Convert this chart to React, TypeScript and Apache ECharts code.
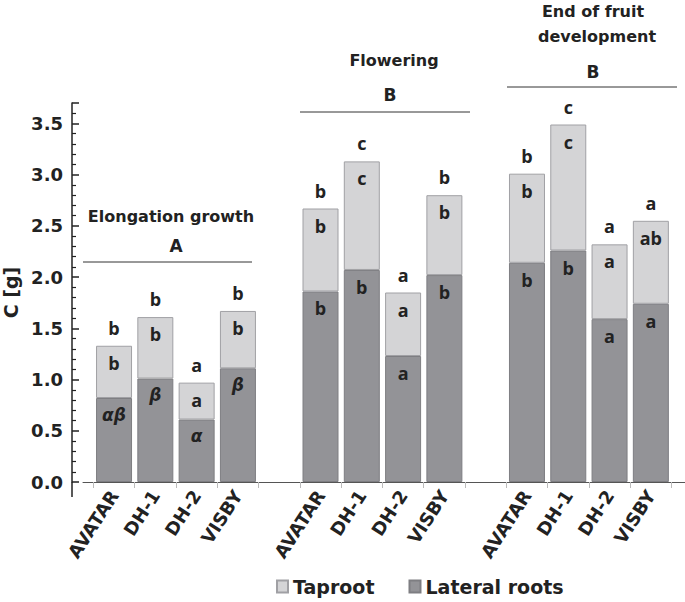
import React, { useEffect, useRef } from 'react';
import * as echarts from 'echarts';

const cultivars = ['AVATAR', 'DH-1', 'DH-2', 'VISBY'];
const stages = ['Elongation growth', 'Flowering', 'End of fruit', 'development'];
const stageLetters = ['A', 'B', 'B'];
// x slots: 4 cultivars, an empty slot, 4 cultivars, an empty slot, 4 cultivars
const slotNames = [...cultivars, '', ...cultivars, '', ...cultivars];
const lateralRoots = [0.82, 1.01, 0.61, 1.11, null, 1.86, 2.07, 1.23, 2.02, null, 2.14, 2.26, 1.59, 1.74];
const taproot = [0.51, 0.6, 0.36, 0.56, null, 0.81, 1.06, 0.62, 0.78, null, 0.87, 1.23, 0.73, 0.81];
const lateralLetters = ['αβ', 'β', 'α', 'β', '', 'b', 'b', 'a', 'b', '', 'b', 'b', 'a', 'a'];
const taprootLetters = ['b', 'b', 'a', 'b', '', 'b', 'c', 'a', 'b', '', 'b', 'c', 'a', 'ab'];
const totalLetters = ['b', 'b', 'a', 'b', '', 'b', 'c', 'a', 'b', '', 'b', 'c', 'a', 'a'];
const yTicks = [0, 0.5, 1, 1.5, 2, 2.5, 3, 3.5];

const TXT = '#222222';
const DV = 'DejaVu Sans';
const LET = 'Open Sans';

export default function App() {
  const ref = useRef<HTMLDivElement>(null);
  useEffect(() => {
    document.body.style.margin = '0';
    const chart = echarts.init(ref.current!, null, { renderer: 'svg' });
    const letterLabel = (arr: string[]) => ({
      show: true,
      position: 'insideTop' as const,
      distance: 8,
      formatter: (p: any) => {
        const s = arr[p.dataIndex];
        return /[αβ]/.test(s) ? `{g|${s}}` : `{n|${s}}`;
      },
      rich: {
        n: { fontFamily: LET, fontWeight: 'bold', fontSize: 18, color: TXT },
        g: { fontFamily: DV, fontStyle: 'italic', fontWeight: 'bold', fontSize: 17, color: TXT },
      },
    });
    chart.setOption({
      animation: false,
      grid: [
        { left: 93.4, right: 13.5, top: 103, bottom: 120, outerBoundsMode: 'none' },
        { left: 83, right: 0, top: 103, bottom: 120, outerBoundsMode: 'none' },
      ],
      legend: {
        data: ['Taproot', 'Lateral roots'],
        left: 271,
        top: 572,
        icon: 'rect',
        itemWidth: 11,
        itemHeight: 12,
        itemGap: 34,
        textStyle: { fontFamily: DV, fontWeight: 'bold', fontSize: 19, color: TXT },
      },
      xAxis: [
        {
          type: 'category',
          gridIndex: 0,
          data: slotNames,
          axisLine: { show: false },
          axisTick: { show: true, interval: 0, length: 6, lineStyle: { color: '#bbbbbb' } },
          axisLabel: {
            interval: 0,
            rotate: 57,
            margin: 10,
            fontFamily: DV,
            fontWeight: 'bold',
            fontSize: 18,
            color: TXT,
          },
        },
        {
          type: 'value',
          gridIndex: 1,
          min: 0,
          max: 1,
          splitLine: { show: false },
          axisLine: { show: true, onZero: false, lineStyle: { color: '#555', width: 1 } },
          axisTick: { show: false },
          axisLabel: { show: false },
        },
      ],
      yAxis: [
        {
          type: 'value',
          gridIndex: 0,
          min: 0,
          max: 3.7,
          interval: 0.5,
          offset: 21.4,
          name: 'C [g]',
          nameLocation: 'middle',
          nameGap: 42,
          nameTextStyle: { fontFamily: DV, fontWeight: 'bold', fontSize: 19, color: TXT },
          splitLine: { show: false },
          axisLine: { show: true, onZero: false, lineStyle: { color: '#222', width: 1.5 } },
          axisTick: { show: true, inside: true, length: 7, lineStyle: { color: '#222', width: 1.5 } },
          minorTick: { show: true, splitNumber: 5, length: 4, lineStyle: { color: '#222', width: 1.2 } },
          axisLabel: {
            showMaxLabel: false,
            margin: 9,
            fontFamily: DV,
            fontWeight: 'bold',
            fontSize: 18,
            color: TXT,
            formatter: (v: number) => (yTicks.some((t) => Math.abs(t - v) < 1e-6) ? v.toFixed(1) : ''),
          },
        },
        {
          type: 'value',
          gridIndex: 1,
          min: 0,
          max: 1,
          show: false,
        },
      ],
      series: [
        {
          name: 'Lateral roots',
          type: 'bar',
          stack: 'total',
          barWidth: 36,
          data: lateralRoots,
          itemStyle: { color: '#939397', borderColor: '#7e7e82', borderWidth: 1 },
          label: letterLabel(lateralLetters),
        },
        {
          name: 'Taproot',
          type: 'bar',
          stack: 'total',
          barWidth: 36,
          data: taproot,
          itemStyle: { color: '#d4d4d6', borderColor: '#a0a0a4', borderWidth: 1 },
          label: letterLabel(taprootLetters),
        },
        {
          name: 'letters',
          type: 'bar',
          stack: 'total',
          barWidth: 36,
          data: totalLetters.map((s) => (s ? 0 : null)),
          itemStyle: { color: 'rgba(0,0,0,0)' },
          label: {
            show: true,
            position: 'top',
            distance: 9,
            fontFamily: LET,
            fontWeight: 'bold',
            fontSize: 18,
            color: TXT,
            formatter: (p: any) => totalLetters[p.dataIndex],
          },
        },
      ],
      graphic: [
        { type: 'line', shape: { x1: 72, y1: 482, x2: 72, y2: 497 }, style: { stroke: '#222', lineWidth: 1.5 } },
        { type: 'text', x: 171, y: 216, style: { text: stages[0], fill: TXT, font: `bold 16px "${DV}"`, align: 'center', verticalAlign: 'middle' } },
        { type: 'text', x: 176, y: 246, style: { text: stageLetters[0], fill: TXT, font: `bold 17px "${DV}"`, align: 'center', verticalAlign: 'middle' } },
        { type: 'line', shape: { x1: 83, y1: 262, x2: 252, y2: 262 }, style: { stroke: '#333', lineWidth: 1 } },
        { type: 'text', x: 394, y: 60, style: { text: stages[1], fill: TXT, font: `bold 16px "${DV}"`, align: 'center', verticalAlign: 'middle' } },
        { type: 'text', x: 390, y: 95, style: { text: stageLetters[1], fill: TXT, font: `bold 17px "${DV}"`, align: 'center', verticalAlign: 'middle' } },
        { type: 'line', shape: { x1: 300, y1: 112, x2: 470, y2: 112 }, style: { stroke: '#333', lineWidth: 1 } },
        { type: 'text', x: 593, y: 11, style: { text: stages[2], fill: TXT, font: `bold 16px "${DV}"`, align: 'center', verticalAlign: 'middle' } },
        { type: 'text', x: 597, y: 36, style: { text: stages[3], fill: TXT, font: `bold 16px "${DV}"`, align: 'center', verticalAlign: 'middle' } },
        { type: 'text', x: 593, y: 72, style: { text: stageLetters[2], fill: TXT, font: `bold 17px "${DV}"`, align: 'center', verticalAlign: 'middle' } },
        { type: 'line', shape: { x1: 507, y1: 87, x2: 677, y2: 87 }, style: { stroke: '#333', lineWidth: 1 } },
      ],
    });
    return () => chart.dispose();
  }, []);
  return <div ref={ref} style={{ width: 685, height: 602 }} />;
}
